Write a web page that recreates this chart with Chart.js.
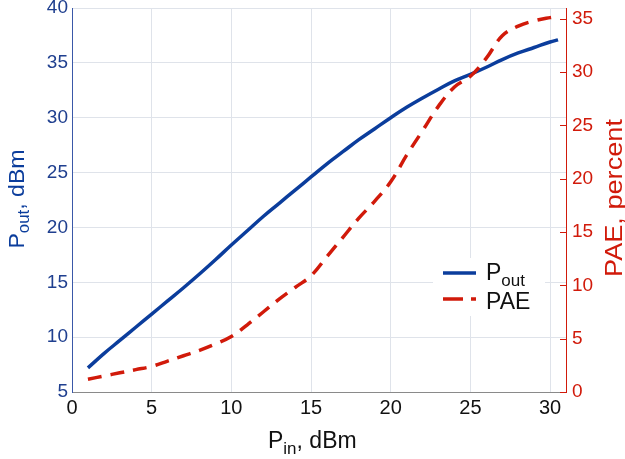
<!DOCTYPE html>
<html>
<head>
<meta charset="utf-8">
<script src="https://cdn.jsdelivr.net/npm/chart.js@4/dist/chart.umd.min.js"></script>
<style>
  html, body { margin: 0; padding: 0; background: #fff; }
  #wrap { width: 625px; height: 459px; position: relative; }
</style>
</head>
<body>
<div id="wrap"><canvas id="chart"></canvas></div>
<script>
// input power, dBm
const pin = [1, 2, 3, 4, 5, 6, 7, 8, 9, 10, 11, 12, 13, 14, 15, 16, 17, 18, 19, 20, 21, 22, 23, 24, 25, 26, 27, 28, 29, 30, 30.5];
// output power, dBm (left axis)
const pout = [7.2, 8.5, 9.7, 10.9, 12.1, 13.3, 14.5, 15.75, 17.05, 18.4, 19.7, 21.0, 22.2, 23.4, 24.6, 25.8, 26.9, 28.0, 29.0, 30.0, 30.95, 31.8, 32.6, 33.35, 33.95, 34.6, 35.3, 35.9, 36.4, 36.9, 37.1];
// power added efficiency, percent (right axis)
const pae = [1.2, 1.5, 1.8, 2.1, 2.4, 2.9, 3.4, 3.9, 4.5, 5.2, 6.3, 7.5, 8.7, 9.8, 10.9, 12.7, 14.5, 16.3, 17.9, 19.7, 22.2, 24.5, 26.8, 28.6, 29.6, 31.3, 33.4, 34.3, 34.8, 35.1, 35.2];

const BLUE = '#0b3d9c';
const RED = '#d11a0a';
const FONT = "'Liberation Sans', Arial, sans-serif";

// text with a subscript part, drawn left to right from x
function subText(c, x, y, parts) {
  parts.forEach(p => {
    c.font = p.size + 'px ' + FONT;
    c.fillText(p.t, x, y + (p.dy || 0));
    x += c.measureText(p.t).width;
  });
}
function subWidth(c, parts) {
  let w = 0;
  parts.forEach(p => { c.font = p.size + 'px ' + FONT; w += c.measureText(p.t).width; });
  return w;
}

const extras = {
  id: 'extras',
  afterDraw(chart) {
    const c = chart.ctx;
    const a = chart.chartArea;
    const y1 = chart.scales.y1;
    c.save();

    // inward ticks on the right axis
    c.strokeStyle = RED;
    c.lineWidth = 1;
    y1.ticks.forEach(t => {
      const py = Math.round(y1.getPixelForValue(t.value)) + 0.5;
      c.beginPath(); c.moveTo(a.right - 6, py); c.lineTo(a.right, py); c.stroke();
    });

    c.textBaseline = 'alphabetic';

    // x title
    const xt = [{t: 'P', size: 23}, {t: 'in', size: 17, dy: 6}, {t: ', dBm', size: 23}];
    c.fillStyle = '#111';
    subText(c, 268, 448, xt);

    // left title
    const lt = [{t: 'P', size: 22}, {t: 'out', size: 16, dy: 5}, {t: ', dBm', size: 22}];
    c.save();
    c.translate(24, 199);
    c.rotate(-Math.PI / 2);
    c.scale(1.05, 1);
    c.fillStyle = BLUE;
    subText(c, -subWidth(c, lt) / 2, 0, lt);
    c.restore();

    // right title
    const rt = [{t: 'PAE, percent', size: 23}];
    c.save();
    c.translate(622, 198);
    c.rotate(-Math.PI / 2);
    c.scale(1.18, 1);
    c.fillStyle = RED;
    subText(c, -subWidth(c, rt) / 2, 0, rt);
    c.restore();

    // legend
    c.fillStyle = '#fff';
    c.fillRect(433, 258, 112, 58);
    c.lineWidth = 3.5;
    c.strokeStyle = BLUE;
    c.beginPath(); c.moveTo(443, 273); c.lineTo(476, 273); c.stroke();
    c.strokeStyle = RED;
    c.setLineDash([20, 8]);
    c.beginPath(); c.moveTo(443, 299); c.lineTo(476, 299); c.stroke();
    c.setLineDash([]);
    c.fillStyle = '#111';
    subText(c, 486, 280, [{t: 'P', size: 23}, {t: 'out', size: 17, dy: 6}]);
    subText(c, 486, 309, [{t: 'PAE', size: 23}]);

    c.restore();
  }
};

const tickFont = {family: FONT, size: 19};
const noPad = s => { s.paddingTop = 0; s.paddingBottom = 0; };

new Chart(document.getElementById('chart'), {
  type: 'line',
  data: {
    datasets: [
      {
        label: 'PAE',
        data: pin.map((x, i) => ({x: x, y: pae[i]})),
        yAxisID: 'y1',
        borderColor: RED,
        borderWidth: 3.5,
        borderDash: [14, 9],
        pointRadius: 0,
        tension: 0.4
      },
      {
        label: 'Pout',
        data: pin.map((x, i) => ({x: x, y: pout[i]})),
        yAxisID: 'y',
        borderColor: BLUE,
        borderWidth: 3.5,
        pointRadius: 0,
        tension: 0.4
      }
    ]
  },
  options: {
    responsive: true,
    maintainAspectRatio: false,
    animation: false,
    layout: { padding: {top: 8, left: 0, right: 0, bottom: 0} },
    plugins: { legend: {display: false}, tooltip: {enabled: false} },
    scales: {
      x: {
        type: 'linear',
        min: 0, max: 31,
        ticks: {stepSize: 5, includeBounds: false, color: '#111', font: {family: FONT, size: 20}, padding: 4, maxRotation: 0},
        grid: {color: '#dfe3ea', drawTicks: false},
        border: {color: '#8a8a8a'},
        afterFit: s => { s.height = 67; s.paddingLeft = 0; s.paddingRight = 0; }
      },
      y: {
        position: 'left',
        min: 5, max: 40,
        ticks: {stepSize: 5, color: '#1f3f8f', font: tickFont, padding: 4},
        grid: {color: '#dfe3ea', drawTicks: false},
        border: {color: '#3a58a8'},
        afterFit: s => { s.width = 72; noPad(s); }
      },
      y1: {
        position: 'right',
        min: 0, max: 36,
        ticks: {stepSize: 5, includeBounds: false, color: RED, font: tickFont, padding: 6},
        grid: {display: false, drawTicks: false},
        border: {color: RED},
        afterFit: s => { s.width = 59; noPad(s); }
      }
    }
  },
  plugins: [extras]
});
</script>
</body>
</html>
